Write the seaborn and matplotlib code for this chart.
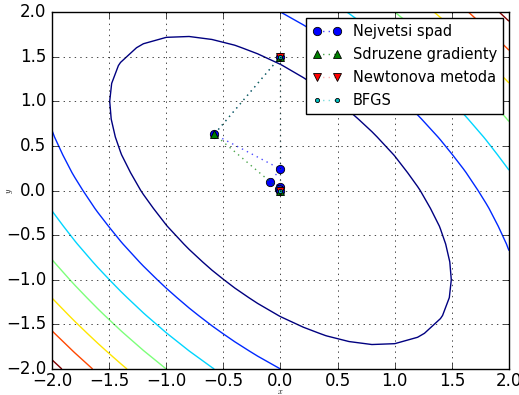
import numpy as np
import matplotlib
matplotlib.use('Agg')
import matplotlib.pyplot as plt
import seaborn as sns

# classic matplotlib look (jet, inward ticks, dotted grid)
plt.style.use('classic')

# quadratic form f = a*x^2 + b*x*y + c*y^2 and its contour levels
coef_a, coef_b, coef_c = 2.0, 2.0, 1.5
levels = [3, 6, 9, 12, 15, 18, 21]
grid_n = 21

# optimisation paths
sd_x = [0.0, -0.58, 0.0, -0.09, 0.0, -0.015, 0.0]
sd_y = [1.5, 0.63, 0.24, 0.10, 0.04, 0.016, 0.0]
cg_x = [0.0, -0.58, 0.0]
cg_y = [1.5, 0.63, 0.0]
nw_x = [0.0, 0.0]
nw_y = [1.5, 0.0]
bf_x = [0.0, 0.0]
bf_y = [1.5, 0.0]

labels = ['Nejvetsi spad', 'Sdruzene gradienty', 'Newtonova metoda', 'BFGS']

fig = plt.figure(figsize=(5.19, 3.95), dpi=100, facecolor='white')
ax = fig.add_axes([0.1002, 0.0658, 0.8805, 0.9038])

g = np.linspace(-2, 2, grid_n)
X, Y = np.meshgrid(g, g)
Z = coef_a * X**2 + coef_b * X * Y + coef_c * Y**2
ax.contour(X, Y, Z, levels=levels, cmap='jet', linewidths=1.0)

paths = [
    (sd_x, sd_y, 'o', (0, 0, 1, 0.7), 'b', 6),
    (cg_x, cg_y, '^', (0, 0.5, 0, 0.7), 'g', 6),
    (nw_x, nw_y, 'v', (1, 0, 0, 0.3), 'r', 6),
    (bf_x, bf_y, '.', (0, 0.75, 0.75, 0.5), 'c', 6),
]
for (px, py, mk, lc, fc, ms), lab in zip(paths, labels):
    sns.lineplot(x=px, y=py, sort=False, estimator=None, ax=ax,
                 marker=mk, markersize=ms, color=lc, linestyle=':',
                 linewidth=1.0, markerfacecolor=fc, markeredgecolor='k',
                 markeredgewidth=0.6, label=lab)

ax.set_xlim(-2, 2)
ax.set_ylim(-2, 2)
ax.set_xticks(np.arange(-2, 2.01, 0.5))
ax.set_yticks(np.arange(-2, 2.01, 0.5))
ax.grid(True)
ax.tick_params(labelsize=12)
ax.tick_params(axis='x', pad=2)
ax.set_xlabel('$x$', fontsize=6, labelpad=-2)
ax.set_ylabel('$y$', fontsize=6, labelpad=-6)
ax.legend(loc='upper right', numpoints=2, fontsize=10.5, fancybox=False,
          labelspacing=0.55, handlelength=2.0, borderaxespad=0.4)

fig.savefig('out.png', dpi=100, facecolor='white')
